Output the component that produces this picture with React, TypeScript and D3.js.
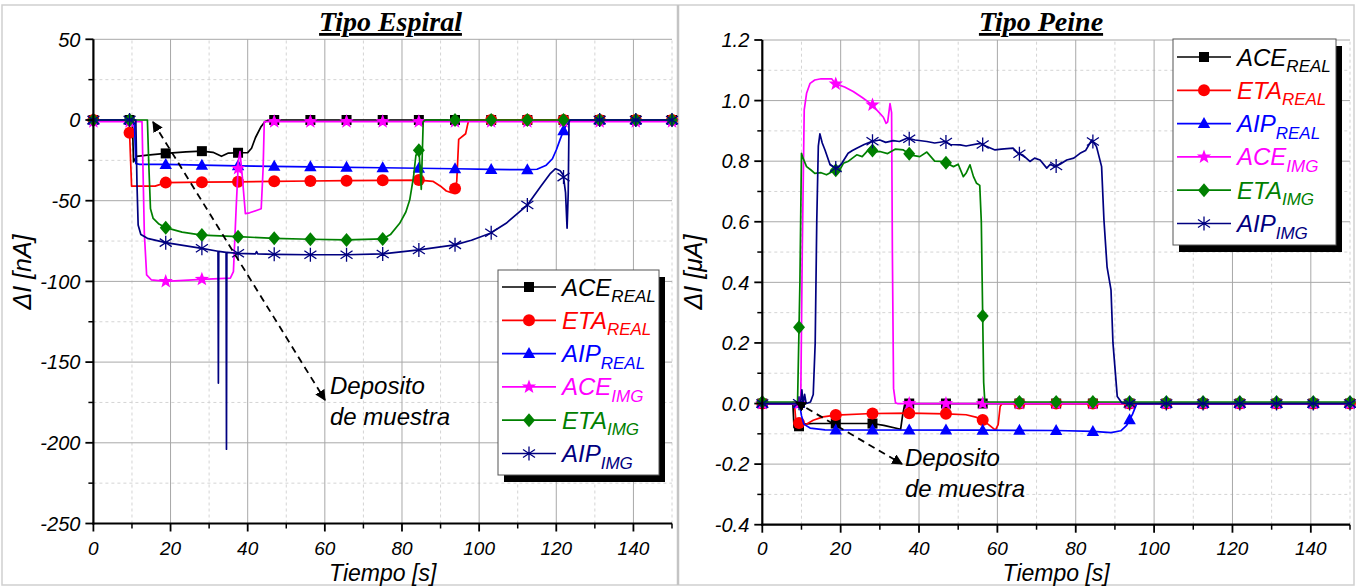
import React from 'react';
import * as d3 from 'd3';

type Pt = [number, number];

// ---------- shared series meta ----------
const seriesNames = ['ACE', 'ETA', 'AIP', 'ACE', 'ETA', 'AIP'];
const seriesSubs = ['REAL', 'REAL', 'REAL', 'IMG', 'IMG', 'IMG'];
const seriesColors = ['#000000', '#ff0000', '#0000ff', '#ff00ff', '#008000', '#000080'];
const seriesMarkers = ['square', 'circle', 'triangle', 'star', 'diamond', 'asterisk'];

// marker sampling times (s)
const markerTimes = [0, 9.375, 18.75, 28.125, 37.5, 46.875, 56.25, 65.625, 75, 84.375, 93.75, 103.125, 112.5, 121.875, 131.25, 140.625, 150];

const xTicks = [0, 20, 40, 60, 80, 100, 120, 140];
const xMinorTicks = [10, 30, 50, 70, 90, 110, 130, 150];

// ---------- Tipo Espiral (nA) ----------
const spiralYTicks = [-250, -200, -150, -100, -50, 0, 50];
const spiralYMinor = [-225, -175, -125, -75, -25, 25];

const spiralAceReal: Pt[] = [[0, 0], [10.1, 0], [10.4, -26], [11.2, -22.5], [14, -21.8], [18.75, -20.7], [24, -19.8], [28.1, -19.3], [31, -20], [33.2, -22.5], [35, -20.5], [37.5, -20.3], [40, -20.2], [41, -17.5], [42, -11], [43.5, -4], [44.5, -1], [45.5, 0], [150, 0]];
const spiralEtaReal: Pt[] = [[0, 0], [9.25, 0], [9.9, -41], [16, -41], [18.75, -38.8], [28.1, -38.5], [37.5, -38.3], [46.9, -38], [56.2, -37.8], [65.6, -37.6], [75, -37.4], [84.4, -37.2], [88, -38], [90, -41], [91.5, -44], [92.8, -45], [93.7, -43], [94.2, -38], [94.7, -12], [96.5, -8.5], [97, -3], [97.3, 0], [150, 0]];
const spiralAipReal: Pt[] = [[0, 0], [10.6, 0], [11, -27], [12, -27.5], [18.75, -27.5], [28.1, -28], [37.5, -28.4], [56.2, -29], [75, -29.6], [93.7, -30.2], [103.1, -30.6], [112.5, -30.8], [115, -30.5], [117.4, -28], [119, -24], [120, -18.6], [121, -12], [121.9, -6.5], [122.8, -2], [123.5, 0], [150, 0]];
const spiralAceImg: Pt[] = [[0, -1], [12.6, -1], [13.2, -70], [13.8, -96], [15, -99], [18.75, -100], [28.1, -98.7], [35.5, -98], [36.3, -94], [37, -55], [37.6, -25], [38, -19.6], [38.6, -35], [39.4, -58], [40.5, -57.5], [43.5, -55], [44, -30], [44.3, -1], [150, -1]];
const spiralEtaImg: Pt[] = [[0, 0], [14, 0], [14.4, -30], [14.8, -55], [15.5, -61], [17, -64.5], [18.75, -66.7], [23, -69.5], [28.1, -71.3], [37.5, -72.3], [46.9, -73.3], [56.2, -73.9], [65.6, -74.3], [75, -73.7], [77, -71], [79.4, -64], [81, -57], [82, -49.6], [83, -35], [83.6, -22], [84.4, -18.6], [84.7, -30], [85, -43], [85.5, -1], [86, 0], [150, 0]];
const spiralAipImg: Pt[] = [[0, 0], [11, 0], [11.3, -40], [11.6, -65], [12.3, -71], [14, -73.3], [18.75, -76], [28.1, -79.5], [32.3, -81.3], [32.4, -163], [32.5, -81.4], [34.4, -82], [34.5, -204], [34.6, -82], [37.5, -82.6], [42, -83], [42.3, -81.5], [42.6, -83], [46.9, -83.2], [56.2, -83.5], [65.6, -83.5], [75, -83], [84.4, -80.5], [93.7, -77.4], [98, -74.5], [102.9, -70.2], [107, -64], [112.5, -52.7], [116, -41], [118.5, -33], [119.8, -30.2], [121, -31.5], [121.8, -34], [122.4, -45], [122.8, -67], [123.1, -45], [123.3, -1], [123.6, 0], [150, 0]];

// ---------- Tipo Peine (µA) ----------
const combYTicks = [-0.4, -0.2, 0, 0.2, 0.4, 0.6, 0.8, 1.0, 1.2];
const combYMinor = [-0.3, -0.1, 0.1, 0.3, 0.5, 0.7, 0.9, 1.1];

const combAceReal: Pt[] = [[0, 0], [7.8, 0], [8.1, -0.08], [9.4, -0.075], [10.5, -0.068], [13, -0.066], [28.1, -0.066], [31, -0.072], [35.3, -0.085], [35.8, -0.04], [36.3, -0.005], [36.6, 0], [150, 0]];
const combEtaReal: Pt[] = [[0, 0], [8.2, 0], [8.6, -0.062], [10, -0.066], [11, -0.07], [13, -0.055], [15.5, -0.044], [18.75, -0.038], [28.1, -0.033], [37.5, -0.032], [46.9, -0.034], [52, -0.037], [54.5, -0.045], [56.2, -0.054], [58, -0.072], [59.5, -0.088], [60.2, -0.07], [60.7, -0.01], [61.2, 0], [150, 0]];
const combAipReal: Pt[] = [[0, 0], [9.5, 0], [10, -0.04], [10.6, -0.068], [12.2, -0.081], [16, -0.087], [56.2, -0.088], [75, -0.089], [84.4, -0.092], [89, -0.096], [91.5, -0.09], [93, -0.072], [94.5, -0.035], [95.5, -0.003], [96, 0], [150, 0]];
const combAceImg: Pt[] = [[0, 0], [9.8, 0], [10.2, 0.5], [10.7, 0.969], [11.3, 1.024], [12.2, 1.057], [13.4, 1.068], [15, 1.072], [17.7, 1.072], [18.75, 1.055], [21, 1.045], [23.2, 1.03], [25.5, 1.01], [28.1, 0.986], [29.5, 0.965], [30.9, 0.945], [31.6, 0.925], [32, 0.93], [32.6, 0.99], [33, 0.96], [33.2, 0.5], [33.5, 0.05], [34, 0.002], [34.5, 0], [150, 0]];
const combEtaImg: Pt[] = [[0, 0.005], [9.0, 0.005], [9.6, 0.4], [10.0, 0.826], [10.4, 0.81], [11.3, 0.782], [12.5, 0.77], [13.4, 0.76], [15, 0.762], [16.4, 0.755], [18.6, 0.771], [19.5, 0.765], [20.7, 0.793], [22, 0.8], [24.1, 0.821], [25.5, 0.815], [27.5, 0.843], [28.5, 0.83], [30, 0.832], [32, 0.825], [34, 0.84], [36, 0.837], [38, 0.82], [40.2, 0.815], [42, 0.83], [44, 0.8], [46.2, 0.799], [48.8, 0.782], [50, 0.79], [51.3, 0.749], [52, 0.76], [53, 0.788], [53.9, 0.749], [54.7, 0.727], [55.5, 0.72], [55.9, 0.6], [56.1, 0.42], [56.5, 0.07], [56.8, 0.005], [150, 0.005]];
const combAipImg: Pt[] = [[0, 0], [9.3, 0], [9.8, 0.005], [10.1, 0.045], [10.4, 0.0], [10.8, 0.03], [11.2, 0.0], [12.3, 0.005], [13, 0.03], [13.5, 0.2], [13.9, 0.6], [14.3, 0.85], [14.7, 0.89], [15.3, 0.86], [16, 0.837], [17.3, 0.788], [18.6, 0.777], [19.5, 0.78], [20.3, 0.793], [21.9, 0.826], [23, 0.835], [24.1, 0.843], [26, 0.855], [27.9, 0.865], [30, 0.87], [31.5, 0.862], [33.4, 0.868], [35, 0.865], [36.9, 0.876], [39, 0.87], [42, 0.865], [44, 0.86], [46.6, 0.865], [48, 0.855], [50.5, 0.854], [52, 0.85], [55.6, 0.859], [57, 0.85], [59.4, 0.837], [61, 0.84], [64, 0.843], [65.3, 0.826], [66.5, 0.82], [68.3, 0.799], [69.5, 0.81], [70.9, 0.804], [72.6, 0.777], [73.5, 0.79], [74.7, 0.782], [76, 0.79], [77.7, 0.804], [79.5, 0.81], [81.1, 0.826], [82.5, 0.835], [84.1, 0.87], [85.3, 0.848], [86.6, 0.782], [87.2, 0.606], [88, 0.45], [89, 0.375], [89.5, 0.2], [90.6, 0.023], [91.8, 0.002], [93, 0], [150, 0]];

const spiralSeries = [spiralAceReal, spiralEtaReal, spiralAipReal, spiralAceImg, spiralEtaImg, spiralAipImg];
const combSeries = [combAceReal, combEtaReal, combAipReal, combAceImg, combEtaImg, combAipImg];

// ---------- helpers ----------
function starPath(ro: number, ri: number): string {
  const pts: string[] = [];
  for (let i = 0; i < 10; i++) {
    const r = i % 2 === 0 ? ro : ri;
    const a = -Math.PI / 2 + (i * Math.PI) / 5;
    pts.push(`${(r * Math.cos(a)).toFixed(2)},${(r * Math.sin(a)).toFixed(2)}`);
  }
  return 'M' + pts.join('L') + 'Z';
}

function markerPath(type: string): string {
  switch (type) {
    case 'square': return 'M-5,-5H5V5H-5Z';
    case 'circle': return 'M6,0A6,6 0 1,1 -6,0A6,6 0 1,1 6,0Z';
    case 'triangle': return 'M0,-6.5L6.2,4.5L-6.2,4.5Z';
    case 'star': return starPath(7.5, 3.1);
    case 'diamond': return 'M0,-7L6,0L0,7L-6,0Z';
    case 'asterisk': return 'M0,-7V7M-6,-4L6,4M-6,4L6,-4';
    default: return '';
  }
}

function Marker({ type, color, x, y }: { type: string; color: string; x: number; y: number }) {
  const stroke = type === 'asterisk';
  return (
    <path
      d={markerPath(type)}
      transform={`translate(${x},${y})`}
      fill={stroke ? 'none' : color}
      stroke={stroke ? color : 'none'}
      strokeWidth={stroke ? 1.3 : 0}
    />
  );
}

function valueAt(data: Pt[], t: number): number {
  const i = d3.bisector((d: Pt) => d[0]).left(data, t);
  if (i <= 0) return data[0][1];
  if (i >= data.length) return data[data.length - 1][1];
  const a = data[i - 1], b = data[i];
  if (b[0] === t) return b[1];
  return d3.interpolateNumber(a[1], b[1])((t - a[0]) / (b[0] - a[0]));
}

const SANS = '"Liberation Sans", Arial, sans-serif';
const SERIF = '"Liberation Serif", "Times New Roman", serif';

interface PanelProps {
  xRange: [number, number];
  yRange: [number, number];
  yDomain: [number, number];
  yTicks: number[];
  yMinor: number[];
  fmt: (v: number) => string;
  series: Pt[][];
  title: string;
  titleX: number;
  yLabelUnit: string;
  yLabelX: number;
  legend: { x: number; y: number; w: number; h: number; row0: number };
  note: { x: number; y: number; ax1: number; ay1: number; ax2: number; ay2: number };
  id: string;
}

function Panel(p: PanelProps) {
  const x = d3.scaleLinear().domain([0, 150]).range(p.xRange);
  const y = d3.scaleLinear().domain(p.yDomain).range(p.yRange);
  const line = d3.line<Pt>().x((d) => x(d[0])).y((d) => y(d[1]));
  const [x0, x1] = p.xRange;
  const [yb, yt] = p.yRange;
  const lg = p.legend;
  const rowGap = 33.3;
  return (
    <g>
      {/* grid */}
      {xMinorTicks.map((t) => (
        <line key={'xm' + t} x1={x(t)} x2={x(t)} y1={yb} y2={yt} stroke="#d4d4d4" strokeDasharray="3,3" />
      ))}
      {p.yMinor.map((v) => (
        <line key={'ym' + v} x1={x0} x2={x1} y1={y(v)} y2={y(v)} stroke="#d4d4d4" strokeDasharray="3,3" />
      ))}
      {xTicks.filter((t) => t > 0).map((t) => (
        <line key={'xg' + t} x1={x(t)} x2={x(t)} y1={yb} y2={yt} stroke="#a8a8a8" strokeWidth={1} />
      ))}
      {p.yTicks.map((v) => (
        <line key={'yg' + v} x1={x0} x2={x1} y1={y(v)} y2={y(v)} stroke="#a8a8a8" strokeWidth={1} />
      ))}

      {/* series */}
      {p.series.map((data, i) => (
        <g key={'s' + i}>
          <path d={line(data) || ''} fill="none" stroke={seriesColors[i]} strokeWidth={1.7} strokeLinejoin="round" />
          {markerTimes.map((t) => (
            <Marker key={t} type={seriesMarkers[i]} color={seriesColors[i]} x={x(t)} y={y(valueAt(data, t))} />
          ))}
        </g>
      ))}

      {/* axes */}
      <line x1={x0} x2={x0} y1={yb + 1} y2={yt} stroke="#000" strokeWidth={2.2} />
      <line x1={x0 - 1} x2={x1} y1={yb} y2={yb} stroke="#000" strokeWidth={2.2} />
      {p.yTicks.map((v) => (
        <g key={'yt' + v}>
          <line x1={x0 - 8} x2={x0} y1={y(v)} y2={y(v)} stroke="#000" strokeWidth={1.8} />
          <text x={x0 - 13} y={y(v)} dy="0.36em" textAnchor="end" fontFamily={SANS} fontStyle="italic" fontSize={20}>
            {p.fmt(v)}
          </text>
        </g>
      ))}
      {p.yMinor.map((v) => (
        <line key={'ymt' + v} x1={x0 - 5} x2={x0} y1={y(v)} y2={y(v)} stroke="#000" strokeWidth={1.5} />
      ))}
      {xTicks.map((t) => (
        <g key={'xt' + t}>
          <line x1={x(t)} x2={x(t)} y1={yb} y2={yb + 8} stroke="#000" strokeWidth={1.8} />
          <text x={x(t)} y={555} textAnchor="middle" fontFamily={SANS} fontStyle="italic" fontSize={19}>
            {t}
          </text>
        </g>
      ))}
      {xMinorTicks.map((t) => (
        <line key={'xmt' + t} x1={x(t)} x2={x(t)} y1={yb} y2={yb + 5} stroke="#000" strokeWidth={1.5} />
      ))}

      {/* axis titles */}
      <text x={(x0 + x1) / 2} y={581} textAnchor="middle" fontFamily={SANS} fontStyle="italic" fontSize={23}>
        Tiempo [s]
      </text>
      <text
        transform={`translate(${p.yLabelX},272) rotate(-90)`}
        textAnchor="middle"
        fontFamily={SANS}
        fontStyle="italic"
        fontSize={25}
      >
        ΔI [{p.yLabelUnit}]
      </text>

      {/* title */}
      <text x={p.titleX} y={31} textAnchor="middle" fontFamily={SERIF} fontStyle="italic" fontWeight="bold" fontSize={28} textDecoration="underline">
        {p.title}
      </text>

      {/* annotation */}
      <line
        x1={p.note.ax1}
        y1={p.note.ay1}
        x2={p.note.ax2}
        y2={p.note.ay2}
        stroke="#000"
        strokeWidth={1.8}
        strokeDasharray="7,5"
        markerStart={`url(#arrow-${p.id})`}
        markerEnd={`url(#arrow-${p.id})`}
      />
      <text x={p.note.x} y={p.note.y} fontFamily={SANS} fontStyle="italic" fontSize={24}>
        Deposito
      </text>
      <text x={p.note.x} y={p.note.y + 30.5} fontFamily={SANS} fontStyle="italic" fontSize={24}>
        de muestra
      </text>

      {/* legend */}
      <rect x={lg.x + 6} y={lg.y + 7} width={lg.w} height={lg.h} fill="#000" />
      <rect x={lg.x} y={lg.y} width={lg.w} height={lg.h} fill="#fff" stroke="#555" strokeWidth={1} />
      {seriesNames.map((n, i) => {
        const ry = lg.row0 + i * rowGap;
        return (
          <g key={'lg' + i}>
            <line x1={lg.x + 4} x2={lg.x + 58} y1={ry} y2={ry} stroke={seriesColors[i]} strokeWidth={1.7} />
            <Marker type={seriesMarkers[i]} color={seriesColors[i]} x={lg.x + 31} y={ry} />
            <text x={lg.x + 64} y={ry + 8.5} fill={seriesColors[i]} fontFamily={SANS} fontStyle="italic" fontSize={24}>
              {n}
              <tspan fontSize={17} dy={6.5}>{seriesSubs[i]}</tspan>
            </text>
          </g>
        );
      })}
    </g>
  );
}

export default function App() {
  return (
    <svg
      width={1356}
      height={588}
      viewBox="0 0 1356 588"
      style={{ position: 'absolute', left: 0, top: 0, background: '#fff' }}
    >
      <defs>
        {['l', 'r'].map((id) => (
          <marker
            key={id}
            id={`arrow-${id}`}
            viewBox="0 0 10 10"
            refX={9}
            refY={5}
            markerWidth={6}
            markerHeight={6}
            markerUnits="strokeWidth"
            orient="auto-start-reverse"
          >
            <path d="M0,0L10,5L0,10Z" fill="#000" />
          </marker>
        ))}
      </defs>
      <rect x={0} y={0} width={1356} height={588} fill="#fff" />
      {/* frames */}
      <rect x={2} y={5} width={1352} height={580} fill="none" stroke="#cfcfcf" strokeWidth={1.5} />
      <line x1={678} x2={678} y1={5} y2={585} stroke="#c4c4c4" strokeWidth={2.5} />

      <Panel
        id="l"
        xRange={[93.4, 672]}
        yRange={[523.5, 39.3]}
        yDomain={[-250, 50]}
        yTicks={spiralYTicks}
        yMinor={spiralYMinor}
        fmt={(v) => String(v)}
        series={spiralSeries}
        title="Tipo Espiral"
        titleX={390.5}
        yLabelUnit="nA"
        yLabelX={31}
        legend={{ x: 498, y: 270, w: 161, h: 205, row0: 287 }}
        note={{ x: 330, y: 394, ax1: 153, ay1: 122, ax2: 325, ay2: 400 }}
      />
      <Panel
        id="r"
        xRange={[762.3, 1350]}
        yRange={[524.7, 40]}
        yDomain={[-0.4, 1.2]}
        yTicks={combYTicks}
        yMinor={combYMinor}
        fmt={(v) => v.toFixed(1)}
        series={combSeries}
        title="Tipo Peine"
        titleX={1041}
        yLabelUnit="μA"
        yLabelX={702}
        legend={{ x: 1173, y: 39, w: 163, h: 206, row0: 57 }}
        note={{ x: 905, y: 466, ax1: 796, ay1: 402, ax2: 902, ay2: 464 }}
      />
    </svg>
  );
}
